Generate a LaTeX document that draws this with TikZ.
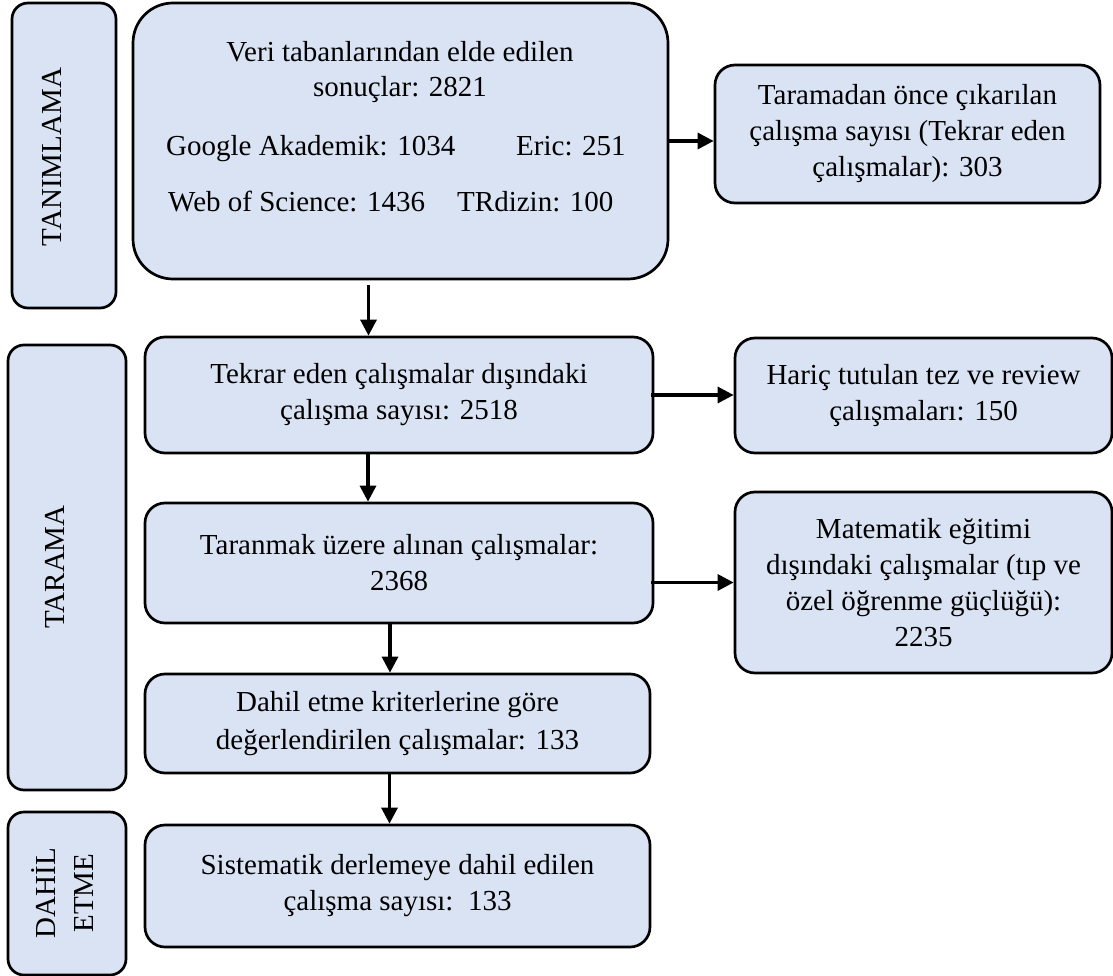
\documentclass[tikz,border=0pt]{standalone}
\usepackage{fontspec}
\setmainfont{Liberation Serif}
\usetikzlibrary{positioning,calc,arrows.meta}
\definecolor{boxblue}{HTML}{DAE3F3}

\tikzset{
  flowbox/.style={draw, line width=2.7pt, fill=boxblue, rounded corners=20pt,
    inner sep=0pt, align=center, font=\fontsize{29}{36}\selectfont},
  stagebox/.style={flowbox, rounded corners=16pt},
  txt/.style={inner sep=0pt, font=\fontsize{29}{36}\selectfont},
  arr/.style={line width=3.2pt, -{Triangle[length=16pt,width=16pt]}}
}

\begin{document}
\begin{tikzpicture}[x=1pt,y=-1pt]
  \useasboundingbox (0,0) rectangle (1113,976);

  % Stages
  \node[stagebox, minimum width=104pt, minimum height=305pt] (tanim) at (64,155.5) {};
  \node[stagebox, minimum width=118pt, minimum height=445pt] (tarama) at (67,567.5) {};
  \node[stagebox, minimum width=118pt, minimum height=163pt] (dahil) at (67,893.5) {};
  \node[txt, rotate=90] (tanimtxt) at (52,157) {TANIMLAMA};
  \node[txt, rotate=90] (taramatxt) at (55,567) {TARAMA};
  \node[txt, rotate=90, align=center, font=\fontsize{29}{38}\selectfont] (dahiltxt) at (63,893) {DAHİL\\ETME};

  % Main column
  \node[flowbox, rounded corners=40pt, minimum width=535pt, minimum height=276pt] (b1) at (400.5,141) {};
  \node[txt, align=center, font=\fontsize{29}{35}\selectfont] (b1title) at (400,72) {Veri tabanlarından elde edilen\\sonuçlar: 2821};
  \node[txt, anchor=base west] (google) at (166,156) {Google Akademik: 1034};
  \node[txt, anchor=base west] (eric) at (516,156) {Eric: 251};
  \node[txt, anchor=base west] (wos) at (168,212) {Web of Science: 1436};
  \node[txt, anchor=base west] (trdizin) at (457,212) {TRdizin: 100};

  \node[flowbox, minimum width=508pt, minimum height=116pt] (b2) at (399,395)
    {Tekrar eden çalışmalar dışındaki\\çalışma sayısı: 2518};
  \node[flowbox, minimum width=508pt, minimum height=120pt] (b3) at (399,563)
    {Taranmak üzere alınan çalışmalar:\\2368};
  \node[flowbox, font=\fontsize{29}{38}\selectfont, minimum width=505pt, minimum height=99pt] (b4) at (397.5,723.5)
    {Dahil etme kriterlerine göre\\değerlendirilen çalışmalar: 133};
  \node[flowbox, minimum width=505pt, minimum height=122pt] (b5) at (397.5,886)
    {Sistematik derlemeye dahil edilen\\çalışma sayısı:\ \ 133};

  % Excluded
  \node[flowbox, minimum width=385pt, minimum height=138pt] (r1) at (907.5,134)
    {Taramadan önce çıkarılan\\çalışma sayısı (Tekrar eden\\çalışmalar): 303};
  \node[flowbox, minimum width=377pt, minimum height=115pt] (r2) at (923.5,395.5)
    {Hariç tutulan tez ve review\\çalışmaları: 150};
  \node[flowbox, minimum width=377pt, minimum height=181pt] (r3) at (923.5,582.5)
    {Matematik eğitimi\\dışındaki çalışmalar (tıp ve\\özel öğrenme güçlüğü):\\2235};

  % Arrows
  \draw[arr] ([xshift=-32pt,yshift=-5pt]b1.south) -- ([xshift=-32pt]b1.south |- b2.north);
  \draw[arr] ([xshift=-31pt]b2.south) -- ([xshift=-31pt]b2.south |- b3.north);
  \draw[arr] ([xshift=-9pt]b3.south) -- ([xshift=-9pt]b3.south |- b4.north);
  \draw[arr] ([xshift=-8pt]b4.south) -- ([xshift=-8pt]b4.south |- b5.north);
  \draw[arr] (b1.east) -- (b1.east -| r1.west);
  \draw[arr] ([xshift=-3pt]b2.east) -- (b2.east -| r2.west);
  \draw[arr] ([xshift=-3pt]r3.west -| b3.east) -- (r3.west);
\end{tikzpicture}
\end{document}
